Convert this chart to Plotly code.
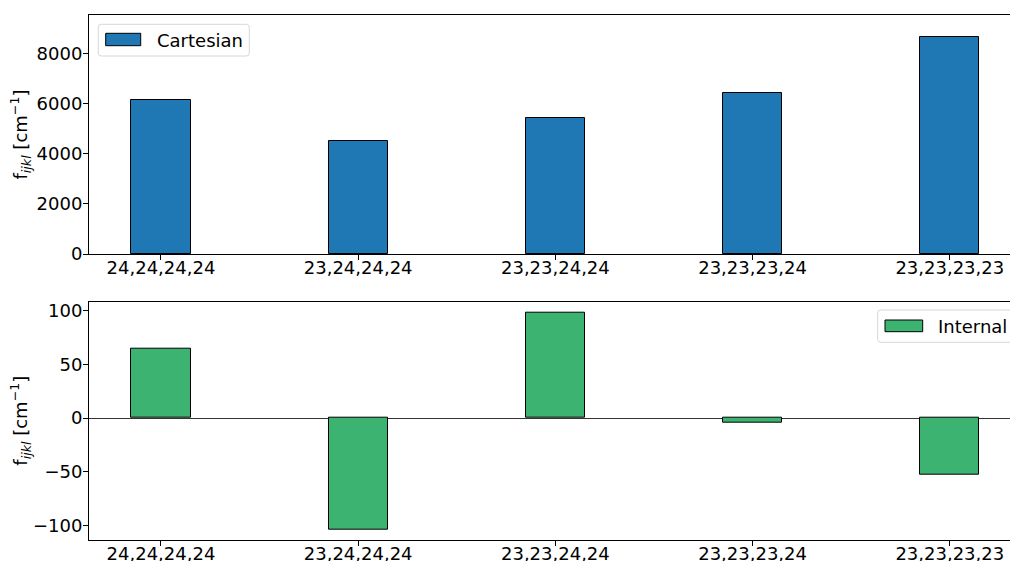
import plotly.graph_objects as go
from plotly.subplots import make_subplots

# Force-constant components, one bar per index quadruple
categories = ["24,24,24,24", "23,24,24,24", "23,23,24,24", "23,23,23,24", "23,23,23,23"]
cartesian_values = [6136, 4499, 5417, 6403, 8651]
internal_values = [64.7, -103.8, 98.5, -4.3, -52.7]

cartesian_name = "Cartesian"
internal_name = "Internal"
y_title = "f<sub><i>ijkl</i></sub> [cm<sup>−1</sup>]"

top_ticks = [0, 2000, 4000, 6000, 8000]
bottom_ticks = [-100, -50, 0, 50, 100]

BLUE = "#1f77b4"
GREEN = "#3cb371"
FONT = "DejaVu Sans"
FS = 18

W, H = 1010, 561
ML, MR, MT, MB = 89, 0, 15, 21
PW = W - ML - MR
PH = H - MT - MB


def px_x(px):
    return (px - ML) / PW


def px_y(py):
    return (H - MB - py) / PH


fig = make_subplots(rows=2, cols=1)

xpos = list(range(len(categories)))

fig.add_trace(go.Bar(x=xpos, y=cartesian_values, width=0.3, name=cartesian_name,
                     marker=dict(color=BLUE, line=dict(color="black", width=1)),
                     showlegend=False), row=1, col=1)
fig.add_trace(go.Bar(x=xpos, y=internal_values, width=0.3, name=internal_name,
                     marker=dict(color=GREEN, line=dict(color="black", width=1)),
                     showlegend=False), row=2, col=1)

xrange = [-0.365, -0.365 + PW / 197.2]

axis_common = dict(showline=True, linecolor="black", linewidth=1,
                   ticks="outside", ticklen=5, tickwidth=1, tickcolor="black",
                   showgrid=False, tickfont=dict(family=FONT, size=FS, color="black"),
                   automargin=False)

fig.update_xaxes(**axis_common, mirror=True, range=xrange, ticklabelstandoff=-8,
                 tickmode="array", tickvals=xpos, ticktext=categories, zeroline=False)
fig.update_yaxes(**axis_common, mirror=False, ticklabelstandoff=-3)

fig.update_layout(
    xaxis=dict(domain=[0, 1]),
    xaxis2=dict(domain=[0, 1]),
    yaxis=dict(domain=[px_y(254), 1.0], range=[0, 9529], tickvals=top_ticks, zeroline=False),
    yaxis2=dict(domain=[0, px_y(301.7)], range=[-113.8, 108.6], tickvals=bottom_ticks,
                zeroline=True, zerolinecolor="#333333", zerolinewidth=1),
)


def rounded_rect(x0, y0, x1, y1, r=3):
    # pixel box -> rounded path in paper coordinates
    def P(x, y):
        return f"{px_x(x):.5f},{px_y(y):.5f}"
    return (f"M {P(x0 + r, y0)} L {P(x1 - r, y0)} Q {P(x1, y0)} {P(x1, y0 + r)} "
            f"L {P(x1, y1 - r)} Q {P(x1, y1)} {P(x1 - r, y1)} "
            f"L {P(x0 + r, y1)} Q {P(x0, y1)} {P(x0, y1 - r)} "
            f"L {P(x0, y0 + r)} Q {P(x0, y0)} {P(x0 + r, y0)} Z")


shapes = []
annotations = []


def add_legend(box, patch, text_x, text_y, color, label):
    shapes.append(dict(type="path", xref="paper", yref="paper", path=rounded_rect(*box),
                       fillcolor="rgba(255,255,255,0.8)", line=dict(color="#d6d6d6", width=1)))
    shapes.append(dict(type="rect", xref="paper", yref="paper",
                       x0=px_x(patch[0]), x1=px_x(patch[2]),
                       y0=px_y(patch[1]), y1=px_y(patch[3]),
                       fillcolor=color, line=dict(color="black", width=1)))
    annotations.append(dict(xref="paper", yref="paper", x=px_x(text_x), y=px_y(text_y),
                            xanchor="left", yanchor="middle", showarrow=False, text=label,
                            font=dict(family=FONT, size=FS, color="black")))


add_legend((98.3, 24.3, 249.3, 56), (105.7, 33.3, 140.7, 45.7), 155, 40, BLUE, cartesian_name)
add_legend((877.7, 310, 1040, 342.3), (885, 320, 922.7, 331.7), 935.5, 326, GREEN, internal_name)

for yc in (134.5, 420.7):
    annotations.append(dict(xref="paper", yref="paper", x=px_x(20), y=px_y(yc),
                            xanchor="center", yanchor="middle", showarrow=False,
                            textangle=-90, text=y_title,
                            font=dict(family=FONT, size=FS, color="black")))

fig.update_layout(
    width=W, height=H,
    margin=dict(l=ML, r=MR, t=MT, b=MB),
    paper_bgcolor="white", plot_bgcolor="white",
    shapes=shapes, annotations=annotations,
    bargap=0, showlegend=False,
    font=dict(family=FONT, size=FS, color="black"),
)

fig.write_html("out.html", config=dict(displayModeBar=False))
